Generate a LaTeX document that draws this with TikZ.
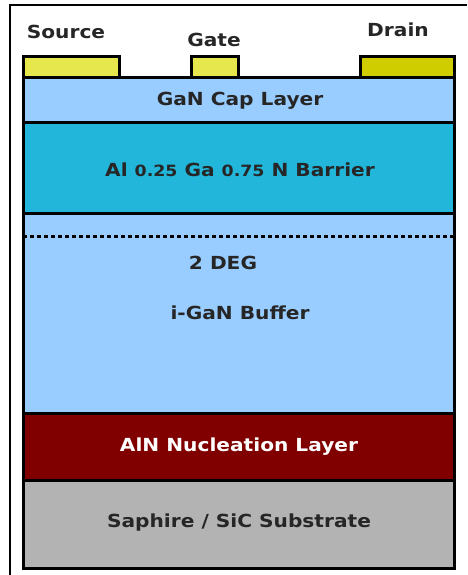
\documentclass[tikz,border=0pt]{standalone}
\usepackage{fontspec}
\setmainfont[FakeStretch=1.12]{DejaVu Sans}
\definecolor{capblue}{HTML}{99CCFF}
\definecolor{barrierblue}{HTML}{22B6DA}
\definecolor{nuclred}{HTML}{800000}
\definecolor{subgray}{HTML}{B3B3B3}
\definecolor{metalyellow}{HTML}{E6E64D}
\definecolor{drainyellow}{HTML}{CFCC00}
\definecolor{labelgray}{HTML}{262626}
\begin{document}
\begin{tikzpicture}[x=1pt,y=-1pt]
                \tikzset{every node/.style={font=\bfseries\fontsize{18}{21}\selectfont,text=labelgray,inner sep=0pt}}
                \tikzset{layer/.style={draw=black,line width=3pt}}
                \useasboundingbox (0,0) rectangle (467,575);
                % frame
                \draw[line width=2.5pt] (10,575) -- (10,5) -- (467,5);
                % contacts
                \draw[layer,fill=metalyellow] (23,57) rectangle (119,78);
                \draw[layer,fill=metalyellow] (191,57) rectangle (238,78);
                \draw[layer,fill=drainyellow] (360,57) rectangle (454,78);
                \node (source) at (66,32) {Source};
                \node (gate) at (214,40) {Gate};
                \node (drain) at (398,30) {Drain};
                % layers
                \draw[layer,fill=capblue] (23,78) rectangle (454,123);
                \draw[layer,fill=barrierblue] (23,123) rectangle (454,213);
                \draw[layer,fill=capblue] (23,213) rectangle (454,413);
                \draw[layer,fill=nuclred] (23,413) rectangle (454,480);
                \draw[layer,fill=subgray] (23,480) rectangle (454,568);
                \draw[line width=3pt,dash pattern=on 4pt off 3pt] (23,236) -- (454,236);
                \node (cap) at (240,101) {GaN Cap Layer};
                \node (barrier) at (240,170) {Al {\fontsize{15.5}{18}\selectfont 0.25} Ga {\fontsize{15.5}{18}\selectfont 0.75} N Barrier};
                \node (deg) at (223,263) {2 DEG};
                \node (buffer) at (240,313) {i-GaN Buffer};
                \node[text=white] (nucl) at (239,447) {AlN Nucleation Layer};
                \node (substrate) at (239,523) {Saphire / SiC Substrate};
            \end{tikzpicture}
\end{document}
